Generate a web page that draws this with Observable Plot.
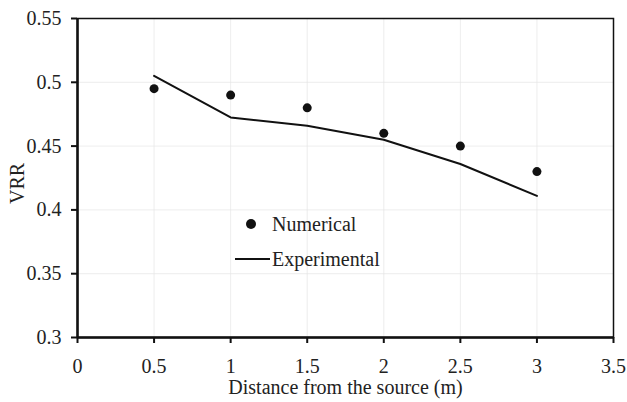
<!DOCTYPE html>
<html><head><meta charset="utf-8">
<script src="https://cdn.jsdelivr.net/npm/d3@7"></script>
<script src="https://cdn.jsdelivr.net/npm/@observablehq/plot@0.6"></script>
<style>
body{margin:0;background:#fff;}
#wrap{position:relative;width:627px;height:402px;}
.leg{position:absolute;display:flex;align-items:center;height:20px;font-size:20px;color:#222;white-space:nowrap;line-height:20px;font-family:'Liberation Serif','Times New Roman',serif;}
</style></head><body>
<div id="wrap"></div>
<script>
const distance = [0.5, 1, 1.5, 2, 2.5, 3];
const numerical = [0.495, 0.49, 0.48, 0.46, 0.45, 0.43];
const experimental = [0.505, 0.4725, 0.466, 0.455, 0.436, 0.411];
const xTicks = [0, 0.5, 1, 1.5, 2, 2.5, 3, 3.5];
const yTicks = [0.3, 0.35, 0.4, 0.45, 0.5, 0.55];

const num = distance.map((d,i)=>({x:d,y:numerical[i]}));
const exp = distance.map((d,i)=>({x:d,y:experimental[i]}));
const FONT = "'Liberation Serif','Times New Roman',serif";

const chart = Plot.plot({
  width: 627, height: 402,
  marginLeft: 77, marginRight: 14, marginTop: 18, marginBottom: 65,
  style: {fontFamily: FONT, fontSize: "20px", color: "#222", background: "#fff"},
  x: {domain: [0, 3.5], ticks: xTicks, tickFormat: d => String(d), label: null},
  y: {domain: [0.3, 0.55], ticks: yTicks, tickFormat: d => String(d), label: null},
  marks: [
    Plot.gridX(xTicks, {stroke: "#e6e6e6", strokeOpacity: 0.7, strokeWidth: 1}),
    Plot.gridY(yTicks, {stroke: "#e6e6e6", strokeOpacity: 0.7, strokeWidth: 1}),
    Plot.frame({stroke: "#111", strokeWidth: 1.5}),
    Plot.ruleX([0], {stroke: "#111", strokeWidth: 2.5}),
    Plot.ruleY([0.3], {stroke: "#111", strokeWidth: 2.5}),
    Plot.axisX({ticks: xTicks, tickFormat: d => String(d), tickSize: 6, tickPadding: 15, stroke: "#111", strokeWidth: 2, label: null, fontSize: 20}),
    Plot.axisY({ticks: yTicks, tickFormat: d => String(d), tickSize: 6, tickPadding: 10, stroke: "#111", strokeWidth: 2, label: null, fontSize: 20}),
    Plot.line(exp, {x: "x", y: "y", stroke: "#111", strokeWidth: 2}),
    Plot.dot(num, {x: "x", y: "y", r: 4.5, fill: "#111", stroke: "none"}),
    Plot.text(["Distance from the source (m)"], {frameAnchor: "bottom", dy: 56, fill: "#222", fontSize: 20}),
    Plot.text(["VRR"], {frameAnchor: "left", dx: -60, dy: 26, rotate: -90, fill: "#222", fontSize: 20})
  ]
});
const wrap = document.getElementById("wrap");
wrap.appendChild(chart);

const l1 = document.createElement("div");
l1.className = "leg";
l1.style.left = "246px"; l1.style.top = "214px";
l1.innerHTML = '<span style="display:inline-block;width:10px;height:10px;border-radius:50%;background:#111;margin-right:16px"></span>Numerical';
wrap.appendChild(l1);
const l2 = document.createElement("div");
l2.className = "leg";
l2.style.left = "235px"; l2.style.top = "249px";
l2.innerHTML = '<span style="display:inline-block;width:35px;height:2px;background:#111;margin-right:2px"></span>Experimental';
wrap.appendChild(l2);
</script>
</body></html>
